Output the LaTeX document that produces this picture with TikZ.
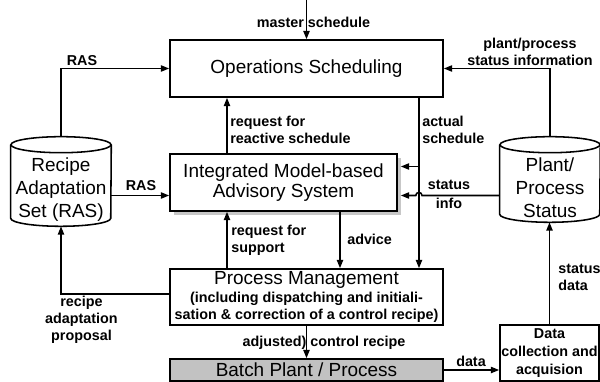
\documentclass[tikz,border=0pt]{standalone}
\usepackage{fontspec}
\setmainfont{Liberation Sans}
\usepackage{tikz}
\usetikzlibrary{arrows.meta,calc,shadows}
\definecolor{c0}{gray}{0.76}
\definecolor{c1}{gray}{0.78}
\newcommand\boxfont{\fontsize{13.5}{14.5}\selectfont\mdseries}
\newcommand\drumfont{\fontsize{13.5}{16.2}\selectfont}
\newcommand\lblfont{\fontsize{10.2}{12}\selectfont\bfseries}
\def\rx{1.25cm}
\def\ry{5.7pt}
\tikzset{%
  box/.style={draw,line width=1.1pt,inner sep=0pt,align=center,font=\boxfont},
  drum/.style={inner sep=0pt,align=center,font=\drumfont,minimum width=2.5cm},
  lbl/.style={inner sep=0pt,align=center,font=\lblfont},
  flow/.style={line width=1.1pt,-{Triangle[length=6pt,width=4.5pt]}}
}
\NewDocumentCommand\drum{m}{%
  \draw[line width=1.1pt] ([yshift=\ry]#1.north west) -- ([yshift=\ry]#1.south west)
    arc[start angle=180,end angle=360,x radius=\rx,y radius=\ry]
    -- ([yshift=\ry]#1.north east);
  \draw[line width=1.1pt] ([yshift=\ry]#1.north) ellipse[x radius=\rx,y radius=\ry];
}

\begin{document}
\begin{tikzpicture}[x=0.025cm,y=-0.025cm]
  \useasboundingbox (0,0) rectangle (600,382);
  % Boxes
  \node[box,minimum width=6.825cm,minimum height=1.425cm] (ops) at (306.5,68.5) {Operations Scheduling};
  \node[box,minimum width=5.675cm,minimum height=1.425cm,fill=white,
    drop shadow={shadow xshift=3pt,shadow yshift=-3pt,fill=c1,opacity=1}]
    (imas) at (283.5,182.5) {Integrated Model-based\\Advisory System};
  \node[box,minimum width=6.825cm,minimum height=1.4cm,font=\lblfont] (pm) at (306.5,297)
    {{\boxfont Process Management}\\[1pt](including dispatching and initiali-\\sation \& correction of a control recipe)};
  \node[box,minimum width=6.825cm,minimum height=0.55cm,fill=c0] (batch) at (306.5,370) {Batch Plant / Process};
  \node[box,minimum width=2.475cm,minimum height=1.4cm,font=\lblfont] (data) at (549.5,353)
    {Data\\[1pt]collection and\\[1pt]acquision};
  % Cylinders
  \node[drum,minimum height=1.825cm] (ras) at (61,189.5) {Recipe\\Adaptation\\Set (RAS)};
  \node[drum,minimum height=1.725cm] (plant) at (550,187.5) {Plant/\\Process\\Status};
  \drum{ras}
  \drum{plant}
  % Helper coordinates
  \coordinate (ms) at (306.5,0);
  \coordinate (rq) at (227,0);
  \coordinate (as) at (419,0);
  \coordinate (adv) at (340,0);
  \coordinate (rap) at (0,294);
  \coordinate (rasin) at ($(imas.west)+(0,13)$);
  \coordinate (sin) at ($(imas.east)+(3,13)$);
  \coordinate (asin) at ($(imas.east)+(3,-16)$);
  % Connectors
  \draw[flow] (ms) -- (ms |- ops.north);
  \draw[flow] ([yshift=2*\ry]ras.north) |- (ops.west);
  \draw[flow] ([yshift=2*\ry]plant.north) |- (ops.east);
  \draw[flow] (ras.east |- rasin) -- (rasin);
  \draw[flow] (imas.north -| rq) -- (ops.south -| rq);
  \draw[flow] (pm.north -| rq) -- (imas.south -| rq);
  \draw[flow] (ops.south -| as) -- (pm.north -| as);
  \draw[flow] (as |- asin) -- (asin);
  \draw[flow] (plant.west |- sin) -- ($(as |- sin)+(3,0)$)
    arc[start angle=0,end angle=180,radius=2.2pt] -- (sin);
  \draw[flow] (imas.south -| adv) -- (pm.north -| adv);
  \draw[flow] (pm.west |- rap) -| (ras.south);
  \draw[flow] (pm.south) -- (pm.south |- batch.north);
  \draw[flow] (batch.east) -- (batch.east -| data.west);
  \draw[flow] (data.north) -- (data.north |- plant.south);
  % Labels
  \node[lbl] (lms) at (313.5,22) {master schedule};
  \node[lbl] (lras1) at (82,61) {RAS};
  \node[lbl] (lras2) at (141,186) {RAS};
  \node[lbl,anchor=west,align=left] (lrq1) at (230,129.5) {request for\\reactive schedule};
  \node[lbl,anchor=west,align=left] (las) at (422,129.5) {actual\\schedule};
  \node[lbl] (lpps) at (530,52) {plant/process\\status information};
  \node[lbl] (lsi) at (449,194.5) {status\\[2pt]info};
  \node[lbl,anchor=west,align=left] (lrq2) at (231,240) {request for\\support};
  \node[lbl,anchor=west] (ladv) at (347,239) {advice};
  \node[lbl] (lrap) at (81.5,320) {recipe\\adaptation\\proposal};
  \node[lbl] (lacr) at (324,343) {adjusted) control recipe};
  \node[lbl] (ldat) at (471,361.5) {data};
  \node[lbl,anchor=west,align=left] (lsd) at (558,277) {status\\data};
\end{tikzpicture}
\end{document}
